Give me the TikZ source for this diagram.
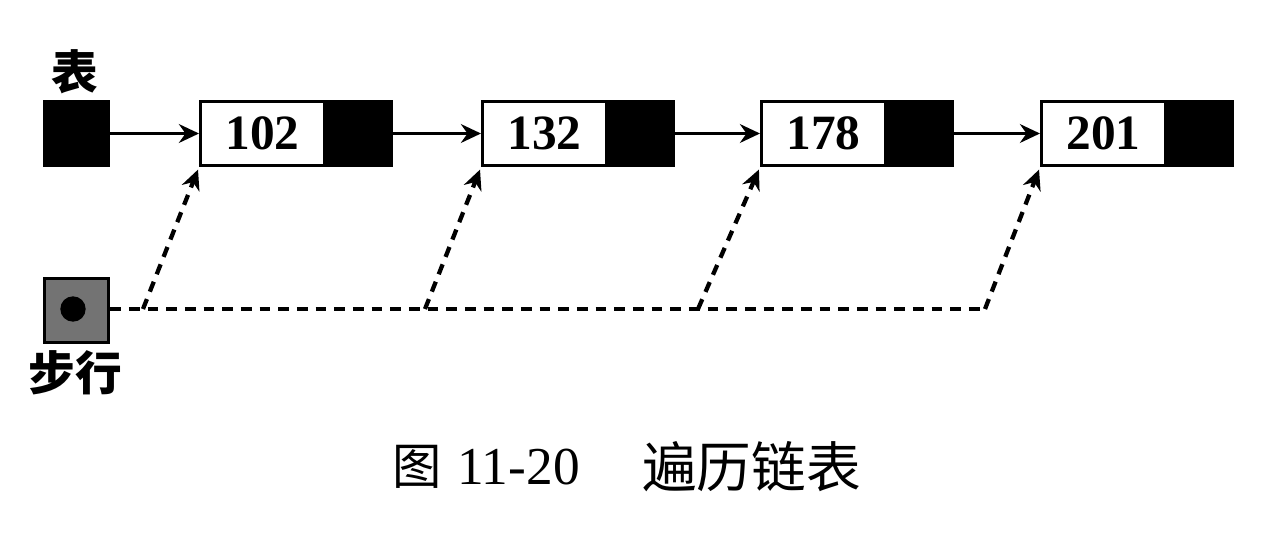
\documentclass[tikz,border=0pt]{standalone}
\usepackage{fontspec}
\setmainfont{Liberation Serif}
\newfontfamily\cjk{Noto Sans CJK SC}
\usetikzlibrary{arrows.meta,positioning,calc}
\begin{document}
\begin{tikzpicture}[x=0.75pt,y=-0.75pt,
  cell/.style={draw=black,line width=2.4pt,minimum height=48pt,inner sep=0pt,anchor=west},
  datacell/.style={cell,fill=white,minimum width=93pt,font=\fontsize{37}{40}\selectfont\bfseries},
  ptrcell/.style={cell,fill=black,minimum width=48pt},
  link/.style={line width=2.8pt,-{Stealth[length=15pt,width=14pt]}},
  walk/.style={line width=3.2pt,dash pattern=on 8pt off 6pt},
  walkarrow/.style={walk,-{Stealth[length=15pt,width=14pt]},shorten >=2pt},
  lbl/.style={font=\cjk\bfseries\fontsize{35}{40}\selectfont,inner sep=0pt}]
\useasboundingbox (0,0) rectangle (1280,546);
% head pointer
\node[ptrcell] (head) at (43,133.5) {};
\node[lbl] (headlbl) at (75,72) {表};
% list nodes
\node[datacell] (n1) at (199,133.5) {102};
\node[ptrcell]  (p1) at (n1.east) {};
\node[datacell] (n2) at (481,133.5) {132};
\node[ptrcell]  (p2) at (n2.east) {};
\node[datacell] (n3) at (760,133.5) {178};
\node[ptrcell]  (p3) at (n3.east) {};
\node[datacell] (n4) at (1040,133.5) {201};
\node[ptrcell]  (p4) at (n4.east) {};
\draw[link] (head.east) -- (n1.west);
\draw[link] (p1.east) -- (n2.west);
\draw[link] (p2.east) -- (n3.west);
\draw[link] (p3.east) -- (n4.west);
% walker
\node[cell,fill=black!55,minimum width=48pt] (walker) at (43,310.5) {};
\node[circle,fill=black,minimum size=19pt,inner sep=0pt] (dot) at (73,309) {};
\node[lbl] (walklbl) at (75,373) {步行};
\coordinate (b1) at (143,309);
\coordinate (b2) at (425,309);
\coordinate (b3) at (698,309);
\coordinate (b4) at (985,309);
\draw[walk] (walker.east |- b1) -- (b4);
\draw[walkarrow] (b1) -- (n1.south west);
\draw[walkarrow] (b2) -- (n2.south west);
\draw[walkarrow] (b3) -- (n3.south west);
\draw[walkarrow] (b4) -- (n4.south west);
% caption
\node[font=\cjk\fontsize{37}{40}\selectfont,anchor=west,inner sep=0pt] (cap1) at (392,467) {图};
\node[font=\fontsize{40}{44}\selectfont,anchor=west,inner sep=0pt] (cap2) at (457,467) {11-20};
\node[font=\cjk\fontsize{41}{44}\selectfont,anchor=west,inner sep=0pt] (cap3) at (642,467) {遍历链表};
\end{tikzpicture}
\end{document}
